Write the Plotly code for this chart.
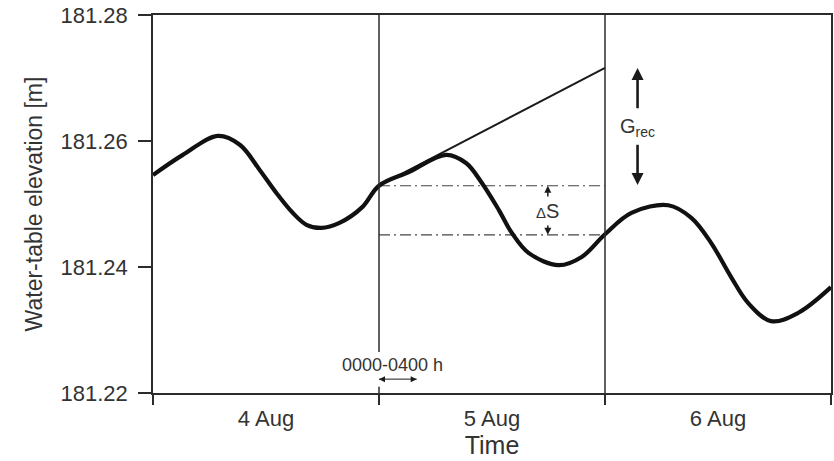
import plotly.graph_objects as go

# Hydrograph readings (days since 0000 h on 4 Aug, water-table elevation in m)
days = [0.0, 0.132, 0.287, 0.384, 0.472, 0.547, 0.618, 0.679, 0.745, 0.825, 0.926,
        1.0, 1.134, 1.297, 1.385, 1.456, 1.531, 1.588, 1.663, 1.795, 1.897,
        2.0, 2.117, 2.28, 2.382, 2.47, 2.558, 2.633, 2.735, 2.854, 3.0]
elev = [181.2546, 181.2578, 181.2608, 181.2594, 181.2554, 181.2517, 181.2486, 181.2467,
        181.2462, 181.2470, 181.2495,
        181.2529, 181.2551, 181.2578, 181.2565, 181.2533, 181.2490, 181.2454, 181.2422,
        181.2403, 181.2416,
        181.2452, 181.2486, 181.2498, 181.2478, 181.2438, 181.2384, 181.2343, 181.2314,
        181.2327, 181.2368]

# Extrapolated recession line (5 Aug)
rec_days = [1.0, 2.0]
rec_elev = [181.2529, 181.2716]

# Delta-S reference levels
ds_days = [1.0, 2.0]
ds_upper = 181.2529
ds_lower = 181.2451

# Annotation arrow positions (data units)
grec_x = 2.144
grec_top, grec_bottom = 181.2716, 181.2530
grec_gap = (181.2652, 181.2594)
ds_x = 1.747
ds_gap = (181.2512, 181.2466)
hour_y = 181.2222
hour_span = (1.0, 1.1667)

day_labels = ["4 Aug", "5 Aug", "6 Aug"]
day_centers = [0.5, 1.5, 2.5]
y_ticks = [181.22, 181.24, 181.26, 181.28]

INK = "#2b2b2b"
TXT = "#333333"
ARR = "#1a1a1a"
FONT = "Liberation Sans, Arial, sans-serif"

fig = go.Figure()

fig.add_trace(go.Scatter(x=rec_days, y=rec_elev, mode="lines",
                         line=dict(color="#1a1a1a", width=2), hoverinfo="skip"))
for lvl in (ds_upper, ds_lower):
    fig.add_trace(go.Scatter(x=ds_days, y=[lvl, lvl], mode="lines",
                             line=dict(color="#444444", width=1.2, dash="11px,4px,2px,4px"),
                             hoverinfo="skip"))
fig.add_trace(go.Scatter(x=days, y=elev, mode="lines",
                         line=dict(color="#111111", width=4.2, shape="spline", smoothing=1.0),
                         hoverinfo="skip"))

# Day boundary lines
fig.add_shape(type="line", x0=1, x1=1, y0=181.2265, y1=181.28, xref="x", yref="y",
              line=dict(color=INK, width=1.5))
fig.add_shape(type="line", x0=2, x1=2, y0=181.22, y1=181.28, xref="x", yref="y",
              line=dict(color=INK, width=1.5))
fig.add_shape(type="line", x0=1, x1=1, y0=181.22, y1=181.221, xref="x", yref="y",
              line=dict(color=INK, width=1.5))

def arrow_v(x, tip, tail, width, size, up):
    # shaft
    inset = size * 0.8 / 6300.0 * (1 if up else -1)
    fig.add_trace(go.Scatter(x=[x, x], y=[tail, tip - inset], mode="lines",
                             line=dict(color=ARR, width=width), hoverinfo="skip"))
    fig.add_trace(go.Scatter(x=[x], y=[tip], mode="markers", hoverinfo="skip",
                             marker=dict(symbol="arrow-up" if up else "arrow-down",
                                         size=size, color=ARR, line=dict(width=0))))

# G_rec arrows
arrow_v(grec_x, grec_top, grec_gap[0], 2.6, 12, True)
arrow_v(grec_x, grec_bottom, grec_gap[1], 2.6, 12, False)
fig.add_annotation(x=grec_x, y=181.2621, xref="x", yref="y", text="G<sub>rec</sub>",
                   showarrow=False, font=dict(family=FONT, size=20, color=TXT))

# Delta S arrows
arrow_v(ds_x, ds_upper, ds_gap[0], 1.5, 7, True)
arrow_v(ds_x, ds_lower, ds_gap[1], 1.5, 7, False)
fig.add_annotation(x=ds_x, y=181.2489, xref="x", yref="y",
                   text="<span style='font-size:15px'>Δ</span>S",
                   showarrow=False, font=dict(family=FONT, size=20, color=TXT))

# 0000-0400 h double arrow
fig.add_annotation(x=1.06, y=181.2244, xref="x", yref="y", text="0000-0400 h",
                   showarrow=False, font=dict(family=FONT, size=18, color=TXT))
fig.add_trace(go.Scatter(x=list(hour_span), y=[hour_y, hour_y], mode="lines",
                         line=dict(color=ARR, width=1), hoverinfo="skip"))
fig.add_trace(go.Scatter(x=list(hour_span), y=[hour_y, hour_y], mode="markers",
                         hoverinfo="skip",
                         marker=dict(symbol=["arrow-left", "arrow-right"], size=6,
                                     color=ARR, line=dict(width=0))))

fig.update_layout(
    width=834, height=461,
    margin=dict(l=153, r=1, t=15, b=68),
    paper_bgcolor="white", plot_bgcolor="white",
    showlegend=False,
    font=dict(family=FONT, color=TXT),
)
fig.update_xaxes(range=[0, 3], tickvals=day_centers, ticktext=day_labels, ticks="",
                 showgrid=False, zeroline=False, showline=True, mirror=True,
                 linecolor=INK, linewidth=1.5, ticklabelstandoff=5,
                 tickfont=dict(family=FONT, size=22, color=TXT),
                 title=dict(text="Time", standoff=4, font=dict(family=FONT, size=25, color=TXT)),
                 minor=dict(tickvals=[0, 1, 2, 3], ticks="outside", ticklen=10,
                            tickwidth=1.5, tickcolor=INK, showgrid=False))
fig.update_yaxes(range=[181.22, 181.28], tickvals=y_ticks,
                 ticktext=[f"{v:.2f}" for v in y_ticks], ticks="outside", ticklen=13,
                 tickwidth=1.5, tickcolor=INK, showgrid=False, zeroline=False,
                 showline=True, mirror=True, linecolor=INK, linewidth=1.5,
                 ticklabelstandoff=6,
                 title=dict(text="Water-table elevation [m]", standoff=12,
                            font=dict(family=FONT, size=23, color=TXT)),
                 tickfont=dict(family=FONT, size=22, color=TXT))

fig.write_html("out.html")
